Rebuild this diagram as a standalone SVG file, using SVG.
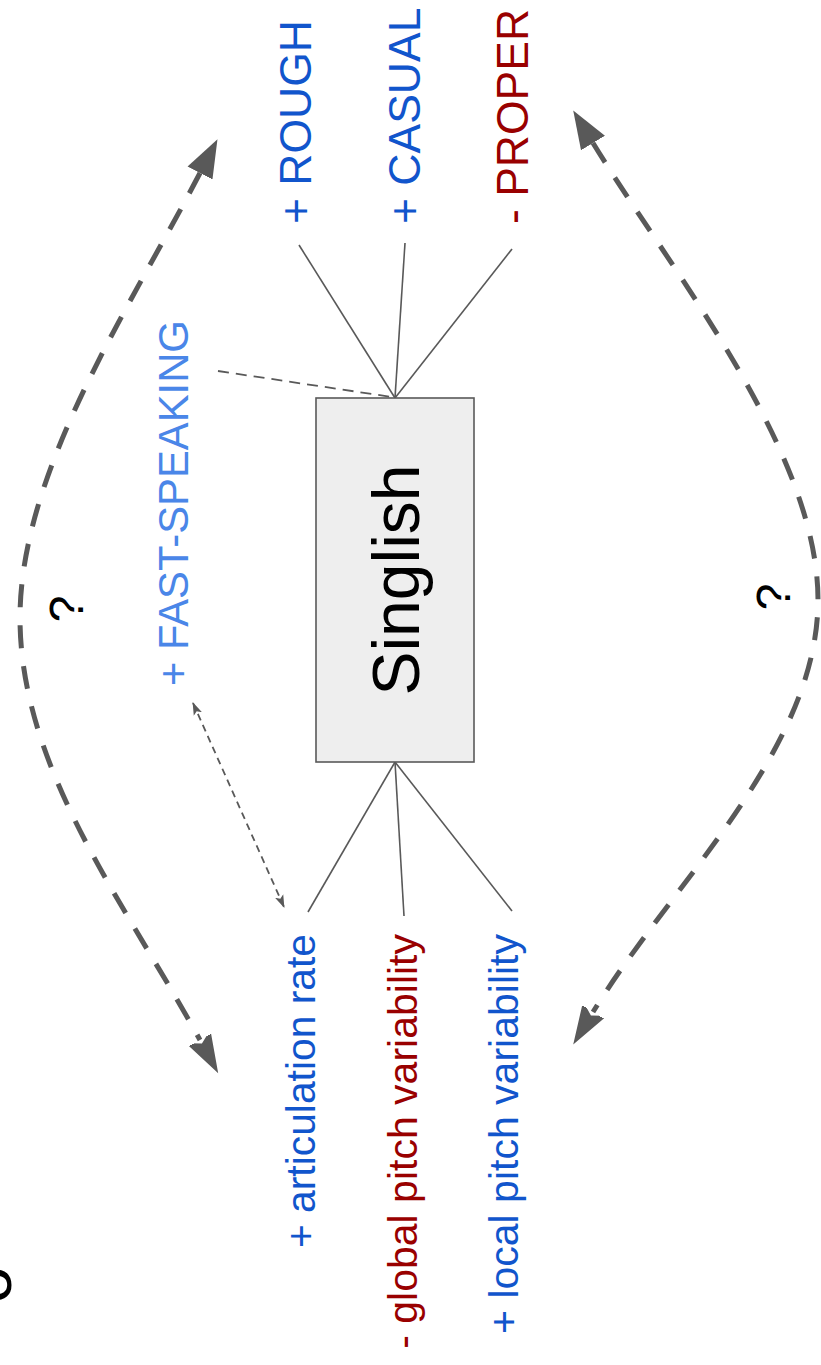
<svg xmlns="http://www.w3.org/2000/svg" width="821" height="1365" viewBox="0 0 821 1365">
<style>
text{font-family:"Liberation Sans",Arial,sans-serif}
.blue{fill:#1155cc}
.red{fill:#990000}
.lblue{fill:#4a86e8}
.blk{fill:#000000}
.ln{stroke:#595959;stroke-width:1.6;fill:none}
.dl{stroke:#595959;stroke-width:1.8;fill:none;stroke-dasharray:11 7}
.da{stroke:#595959;stroke-width:1.8;fill:none;stroke-dasharray:7 5}
.big{stroke:#595959;stroke-width:5;fill:none;stroke-dasharray:23 18}
</style>
<defs>
<marker id="bigS" markerUnits="userSpaceOnUse" markerWidth="40" markerHeight="30" refX="0" refY="14" orient="auto-start-reverse" viewBox="0 0 40 28">
<path d="M0,0 L38,14 L0,28 z" fill="#595959"/>
</marker>
<marker id="bigE" markerUnits="userSpaceOnUse" markerWidth="40" markerHeight="30" refX="0" refY="14" orient="auto" viewBox="0 0 40 28">
<path d="M-4,0 L38,14 L-4,28 L4,14 z" fill="#595959"/>
</marker>
<marker id="sm" markerUnits="userSpaceOnUse" markerWidth="14" markerHeight="10" refX="12" refY="4.5" orient="auto-start-reverse" viewBox="0 0 14 9">
<path d="M0,0 L13,4.5 L0,9 L3,4.5 z" fill="#595959"/>
</marker>
</defs>
<g id="connectors">
<line class="ln" x1="395" y1="398" x2="299" y2="245"/>
<line class="ln" x1="395" y1="398" x2="405" y2="243"/>
<line class="ln" x1="395" y1="398" x2="512" y2="249"/>
<line class="dl" x1="218" y1="371" x2="392" y2="397"/>
<line class="ln" x1="395" y1="762" x2="308" y2="912"/>
<line class="ln" x1="395" y1="762" x2="404" y2="916"/>
<line class="ln" x1="395" y1="762" x2="512" y2="911"/>
<line class="da" x1="193" y1="703" x2="284" y2="907" marker-start="url(#sm)" marker-end="url(#sm)"/>
<path class="big" d="M200,173 C131,306 20,470 20,618 C20,770 128,908 200,1040" marker-start="url(#bigS)" marker-end="url(#bigE)"/>
<path class="big" d="M593,143 C671,271 818,450 818,600 C818,750 671,884 593,1012" marker-start="url(#bigS)" marker-end="url(#bigE)"/>
</g>
<g id="singlish">
<rect x="316" y="398" width="158" height="364" fill="#eeeeee" stroke="#595959" stroke-width="1.6"/>
<text class="blk" transform="translate(419,580) rotate(-90)" text-anchor="middle" font-size="66">Singlish</text>
</g>
<g id="rough"><text class="blue" transform="translate(311,224) rotate(-90)" font-size="44.5">+ ROUGH</text></g>
<g id="casual"><text class="blue" transform="translate(420,224) rotate(-90)" font-size="44.5">+ CASUAL</text></g>
<g id="proper"><text class="red" transform="translate(528,224) rotate(-90)" font-size="44.5">- PROPER</text></g>
<g id="fast-speaking"><text class="lblue" transform="translate(188,686) rotate(-90)" font-size="41.8">+ FAST-SPEAKING</text></g>
<g id="articulation"><text class="blue" transform="translate(315,934) rotate(-90)" text-anchor="end" font-size="40.8">+ articulation rate</text></g>
<g id="global"><text class="red" transform="translate(417,934) rotate(-90)" text-anchor="end" font-size="41">- global pitch variability</text></g>
<g id="local"><text class="blue" transform="translate(518,934) rotate(-90)" text-anchor="end" font-size="41">+ local pitch variability</text></g>
<g id="q-left"><text class="blk" transform="translate(83,609) rotate(-90)" text-anchor="middle" font-size="48">?</text></g>
<g id="q-right"><text class="blk" transform="translate(790,597) rotate(-90)" text-anchor="middle" font-size="48">?</text></g>
<g id="partial"><text class="blk" transform="translate(11,1285) rotate(-90)" text-anchor="middle" font-size="66">o</text></g>
</svg>
